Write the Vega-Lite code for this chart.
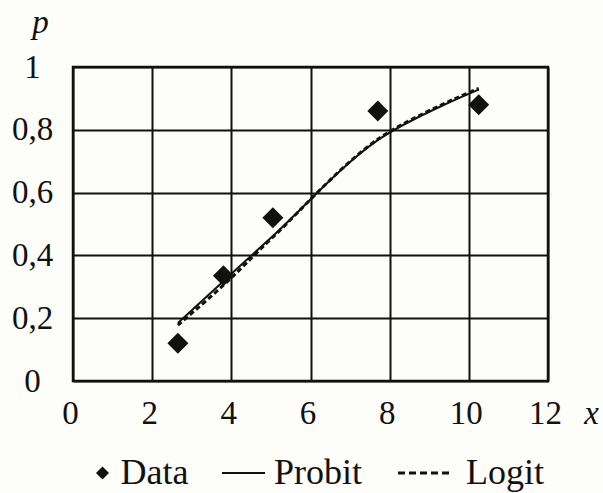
{
  "$schema": "https://vega.github.io/schema/vega-lite/v6.json",
  "width": 475,
  "height": 314,
  "autosize": {"type": "none"},
  "padding": {"left": 73, "top": 67, "right": 55, "bottom": 112},
  "background": "#fdfdfa",
  "datasets": {
    "points": [
      {"series": "Data", "x": 2.65, "p": 0.12},
      {"series": "Data", "x": 3.8, "p": 0.335},
      {"series": "Data", "x": 5.05, "p": 0.52},
      {"series": "Data", "x": 7.7, "p": 0.86},
      {"series": "Data", "x": 10.25, "p": 0.88}
    ],
    "probit": [
      {"series": "Probit", "x": 2.65, "p": 0.185},
      {"series": "Probit", "x": 3.8, "p": 0.318},
      {"series": "Probit", "x": 5.05, "p": 0.462},
      {"series": "Probit", "x": 7.7, "p": 0.767},
      {"series": "Probit", "x": 10.25, "p": 0.928}
    ],
    "logit": [
      {"series": "Logit", "x": 2.65, "p": 0.178},
      {"series": "Logit", "x": 3.8, "p": 0.305},
      {"series": "Logit", "x": 5.05, "p": 0.458},
      {"series": "Logit", "x": 7.7, "p": 0.77},
      {"series": "Logit", "x": 10.25, "p": 0.932}
    ]
  },
  "encoding": {
    "x": {
      "field": "x", "type": "quantitative",
      "scale": {"domain": [0, 12], "nice": false, "zero": false},
      "axis": {
        "values": [0, 2, 4, 6, 8, 10, 12],
        "title": "x",
        "titleFontStyle": "italic",
        "titleFontWeight": "normal",
        "titleX": 518,
        "titleY": 42,
        "titleAlign": "center",
        "titleBaseline": "alphabetic",
        "labelPadding": 16,
        "labelOffset": -3,
        "labelAlign": "center",
        "labelBaseline": "top"
      }
    },
    "y": {
      "field": "p", "type": "quantitative",
      "scale": {"domain": [0, 1], "nice": false},
      "axis": {
        "values": [0, 0.2, 0.4, 0.6, 0.8, 1],
        "labelExpr": "replace(format(datum.value, '~g'), '.', ',')",
        "title": "p",
        "titleAngle": 0,
        "titleFontStyle": "italic",
        "titleFontWeight": "normal",
        "titleX": -33,
        "titleY": -35,
        "titleAlign": "center",
        "titleBaseline": "alphabetic",
        "labelPadding": 41,
        "labelAlign": "center",
        "labelBaseline": "middle"
      }
    },
    "color": {
      "field": "series", "type": "nominal",
      "scale": {"domain": ["Data", "Probit", "Logit"], "range": ["#111111", "#111111", "#111111"]},
      "legend": {
        "title": null,
        "orient": "none",
        "direction": "horizontal",
        "legendX": 23,
        "legendY": 387,
        "padding": 0,
        "symbolSize": 1849,
        "labelOffset": 9,
        "columnPadding": 29,
        "labelFont": "Liberation Serif",
        "labelFontSize": 36,
        "labelColor": "#111111",
        "labelLimit": 300,
        "labelBaseline": "middle",
        "encode": {
          "symbols": {
            "update": {
              "shape": {"signal": "datum.value === 'Data' ? 'diamond' : 'stroke'"},
              "size": {"signal": "datum.value === 'Data' ? 169 : (datum.value === 'Probit' ? 1849 : 2601)"},
              "strokeDash": {"signal": "datum.value === 'Logit' ? [7, 4] : [1, 0]"},
              "strokeWidth": {"signal": "datum.value === 'Data' ? 0 : (datum.value === 'Logit' ? 3 : 2)"},
              "fill": {"signal": "datum.value === 'Data' ? '#111111' : 'transparent'"},
              "stroke": {"value": "#111111"},
              "opacity": {"value": 1},
              "x": {"signal": "datum.value === 'Data' ? 6.5 : (datum.value === 'Probit' ? 21.5 : 25.5)"},
              "y": {"value": 19}
            }
          },
          "labels": {
            "update": {
              "x": {"signal": "datum.value === 'Data' ? 24.5 : (datum.value === 'Probit' ? 52 : 68)"},
              "y": {"value": 19}
            }
          }
        }
      }
    }
  },
  "layer": [
    {
      "data": {"name": "probit"},
      "mark": {"type": "line", "strokeWidth": 2, "interpolate": "catmull-rom"}
    },
    {
      "data": {"name": "logit"},
      "mark": {"type": "line", "strokeWidth": 3, "strokeDash": [5, 3], "interpolate": "catmull-rom"}
    },
    {
      "data": {"name": "points"},
      "mark": {"type": "point", "shape": "diamond", "filled": true, "size": 440, "opacity": 1}
    }
  ],
  "config": {
    "font": "Liberation Serif",
    "view": {"stroke": "#111111", "strokeWidth": 2.5},
    "axis": {
      "grid": true,
      "gridColor": "#111111",
      "gridWidth": 2,
      "gridOpacity": 1,
      "domain": false,
      "ticks": false,
      "tickSize": 0,
      "labelFont": "Liberation Serif",
      "labelFontSize": 33,
      "labelColor": "#111111",
      "titleFont": "Liberation Serif",
      "titleFontSize": 33,
      "titleColor": "#111111"
    }
  }
}
